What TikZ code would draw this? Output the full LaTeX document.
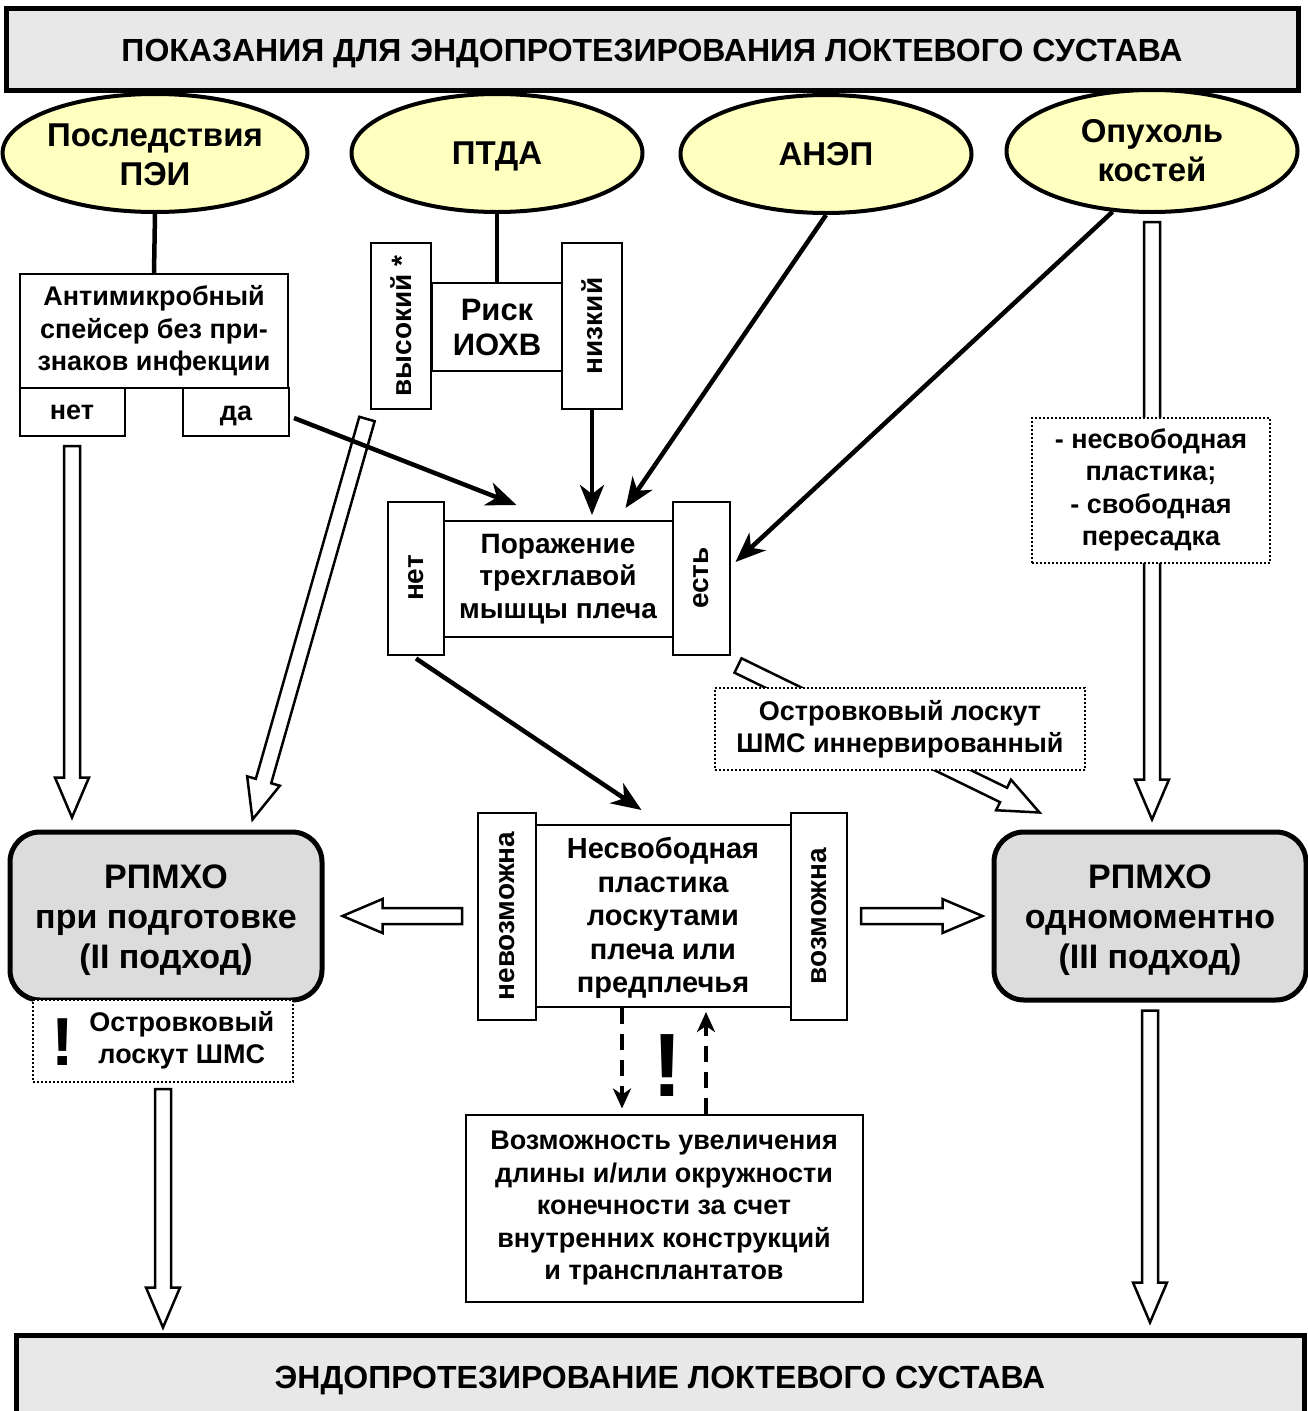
\documentclass[tikz,border=0pt]{standalone}
\usepackage{fontspec}
\setmainfont{Liberation Sans}
\usetikzlibrary{shapes.geometric, arrows.meta, calc, positioning}

\definecolor{ovalfill}{RGB}{255,255,192}
\definecolor{headfill}{RGB}{232,232,232}
\definecolor{stepfill}{RGB}{220,220,220}

\newcommand{\fnt}[2]{\fontsize{#1}{#2}\selectfont\bfseries}
\newcommand{\lowered}[2]{\raisebox{-#1pt}[\height][\depth]{\begin{tabular}{@{}c@{}}#2\end{tabular}}}
\newcommand{\hollowarrow}[2]{%
  \draw[fatarrow] let \p1=#1, \p2=#2,
    \n1={atan2(\y2-\y1,\x2-\x1)}, \n2={veclen(\x2-\x1,\y2-\y1)} in
    [shift={(\p1)}, rotate=\n1]
    (0pt,-8pt) -- ({\n2-40pt},-8pt) -- ({\n2-40pt},-17pt) -- ({\n2},0pt)
    -- ({\n2-40pt},17pt) -- ({\n2-40pt},8pt) -- (0pt,8pt) -- cycle;}

\begin{document}
\begin{tikzpicture}[x=1pt, y=-1pt,
  every node/.style={inner sep=0pt, align=center},
  oval/.style={ellipse, draw, line width=4pt, fill=ovalfill, font=\fnt{33}{39}, minimum width=291pt, minimum height=118pt},
  box/.style={rectangle, draw, line width=2pt, fill=white, font=\fnt{27}{32.5}},
  sidebox/.style={box, rotate=90, font=\fnt{28}{32}},
  notebox/.style={box, dotted},
  stepbox/.style={rectangle, rounded corners=30pt, draw, line width=5pt, fill=stepfill, font=\fnt{34}{40}, minimum width=312pt, minimum height=168pt},
  titlebox/.style={rectangle, draw, line width=5pt, fill=headfill, font=\fnt{32}{38}},
  link/.style={line width=4.5pt},
  arr/.style={link, -{Stealth[length=30pt, width=24pt, inset=9pt]}},
  dasharr/.style={line width=3.5pt, dash pattern=on 16pt off 10pt, -{Stealth[length=20pt, width=18pt, inset=6pt]}},
  fatarrow/.style={line width=2.5pt, fill=white, line join=miter}]
\useasboundingbox (0,0) rectangle (1308,1411);

\node[titlebox, minimum width=1292pt, minimum height=82pt] (head) at (652,49) {\lowered{5}{ПОКАЗАНИЯ ДЛЯ ЭНДОПРОТЕЗИРОВАНИЯ ЛОКТЕВОГО СУСТАВА}};

\node[oval] (pei) at (155,153) {\lowered{5}{Последствия\\ПЭИ}};
\node[oval] (ptda) at (497,153) {\lowered{4}{ПТДА}};
\node[oval] (anep) at (826,154) {\lowered{4}{АНЭП}};
\node[oval, minimum height=122pt] (tumor) at (1152,151) {\lowered{3}{Опухоль\\костей}};

\node[box, minimum width=268pt, minimum height=114pt] (spacer) at (154,331) {Антимикробный\\спейсер без при-\\знаков инфекции};
\node[box, minimum width=105pt, minimum height=48pt] (no1) at (72,412) {нет};
\node[box, minimum width=106pt, minimum height=48pt] (yes1) at (236,412) {\lowered{2}{да}};

\node[box, font=\fnt{31}{35}, minimum width=131pt, minimum height=88pt] (risk) at (497,327) {Риск\\ИОХВ};
\node[sidebox, minimum width=166pt, minimum height=60pt] (high) at (401,326) {высокий *};
\node[sidebox, minimum width=166pt, minimum height=60pt] (low) at (592,326) {низкий};

\node[box, font=\fnt{28}{32.5}, minimum width=229pt, minimum height=116pt] (lesion) at (558,579) {Поражение\\трехглавой\\мышцы плеча};
\node[sidebox, minimum width=153pt, minimum height=56pt] (no2) at (416,578) {нет};
\node[sidebox, minimum width=153pt, minimum height=57pt] (yes2) at (701,578) {есть};

\node[stepbox] (leftstep) at (166,916) {\lowered{4}{РПМХО\\при подготовке\\(II подход)}};
\node[stepbox] (rightstep) at (1150,916) {\lowered{4}{РПМХО\\одномоментно\\(III подход)}};

\node[box, font=\fnt{29}{33.5}, minimum width=255pt, minimum height=182pt] (nonfree) at (663,916) {\lowered{3}{Несвободная\\пластика\\лоскутами\\плеча или\\предплечья}};
\node[sidebox, minimum width=207pt, minimum height=58pt] (imp) at (507,916) {невозможна};
\node[sidebox, minimum width=207pt, minimum height=56pt] (pos) at (819,916) {возможна};

\node[notebox, minimum width=260pt, minimum height=82pt] (ostr2) at (163,1041)
  {\raisebox{-18pt}{\fnt{68}{68}!}\hspace{15pt}\begin{tabular}{@{}c@{}}Островковый\\лоскут ШМС\end{tabular}};

\node[box, minimum width=397pt, minimum height=187pt] (possib) at (664,1208) {Возможность увеличения\\длины и/или окружности\\конечности за счет\\внутренних конструкций\\и трансплантатов};
\node[font=\fnt{90}{90}] (warn) at (667,1066) {!};

\node[titlebox, minimum width=1288pt, minimum height=90pt] (foot) at (660,1380) {ЭНДОПРОТЕЗИРОВАНИЕ ЛОКТЕВОГО СУСТАВА};

\hollowarrow{([yshift=-9pt]no1.south)}{($(no1.south |- leftstep.north)+(0,-12)$)}
\hollowarrow{([xshift=-34pt,yshift=-9pt]high.west)}{([xshift=-72pt,yshift=10pt]leftstep.north east)}
\hollowarrow{([yshift=-8pt]tumor.south)}{($(tumor.south |- rightstep.north)+(0,-10)$)}
\hollowarrow{([xshift=37pt,yshift=-10pt]yes2.west)}{([xshift=48pt,yshift=17pt]rightstep.north west)}
\hollowarrow{([xshift=-15pt]imp.north)}{([xshift=18pt]leftstep.east)}
\hollowarrow{([xshift=13pt]pos.south)}{([xshift=-9pt]rightstep.west)}
\hollowarrow{([yshift=-6pt]ostr2.south)}{($(ostr2.south |- foot.north)+(0,-5)$)}
\hollowarrow{([yshift=-8pt]rightstep.south)}{($(rightstep.south |- foot.north)+(0,-10)$)}

\node[notebox, minimum width=238pt, minimum height=145pt] (plastic) at (1151,490) {- несвободная\\пластика;\\- свободная\\пересадка};
\node[notebox, minimum width=370pt, minimum height=82pt] (ostr1) at (900,729) {Островковый лоскут\\ШМС иннервированный};

\draw[link] (pei.south) -- (spacer.north);
\draw[link] (ptda.south) -- (risk.north);
\draw[arr] ([xshift=4pt,yshift=-6pt]yes1.east) -- ([xshift=74pt,yshift=15pt]lesion.north west);
\draw[arr, shorten >=5pt] (low.west) -- (low.west |- lesion.north);
\draw[arr] (anep.south) -- ([xshift=-48pt,yshift=12pt]lesion.north east);
\draw[arr] (tumor.237) -- ([xshift=5pt,yshift=16pt]yes2.south);
\draw[arr] ([yshift=-3pt]no2.west) -- ([xshift=107pt,yshift=14pt]nonfree.north west);

\draw[dasharr, shorten >=5pt] ([xshift=-41pt]nonfree.south) -- ([xshift=-42pt]possib.north);
\draw[dasharr, shorten >=4pt] ([xshift=42pt]possib.north) -- ([xshift=43pt]nonfree.south);
\end{tikzpicture}
\end{document}
